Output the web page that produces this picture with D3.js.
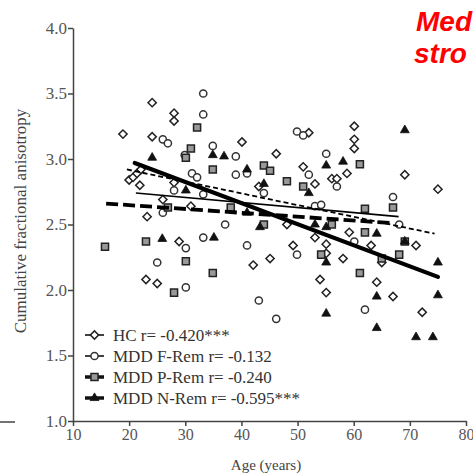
<!DOCTYPE html>
<html><head><meta charset="utf-8">
<script src="https://cdn.jsdelivr.net/npm/d3@7/dist/d3.min.js"></script>
<style>html,body{margin:0;padding:0;background:#fff;}svg{display:block;}</style>
</head><body>
<svg id="c" width="473" height="476"></svg>
<script>
// ---- data ----
const xTicks = [10, 20, 30, 40, 50, 60, 70, 80];
const yTicks = [1.0, 1.5, 2.0, 2.5, 3.0, 3.5, 4.0];
const seriesNames = ["HC", "MDD F-Rem", "MDD P-Rem", "MDD N-Rem"];
const legendLabels = ["HC r= -0.420***", "MDD F-Rem r= -0.132", "MDD P-Rem r= -0.240", "MDD N-Rem r= -0.595***"];

const hcAge = [24.1,28.0,28.0,18.9,24.1,20.0,20.7,21.4,22.1,21.9,26.0,31.0,23.2,40.1,46.2,51.0,53.1,56.1,57.0,58.8,43.1,52.0,60.1,60.1,60.1,69.1,75.0,48.1,28.9,23.0,25.0,49.2,53.1,55.1,55.1,58.1,42.1,45.1,54.0,55.1,59.2,63.1,71.1,65.0,64.1,67.0,72.2,28.0];
const hcFA  = [3.43,3.35,3.29,3.19,3.17,2.84,2.86,2.89,2.92,2.80,2.69,2.64,2.56,3.13,3.04,2.94,2.81,2.85,2.85,2.89,2.79,3.20,3.25,3.15,3.08,2.88,2.77,2.50,2.37,2.08,2.05,2.34,2.40,2.35,2.28,2.24,2.19,2.24,2.08,1.98,2.44,2.34,2.34,2.21,2.06,1.95,1.83,2.82];

const fAge = [33.2,33.2,26.0,26.9,34.9,29.9,31.2,32.1,28.0,33.2,26.0,39.0,55.1,39.0,41.0,52.0,57.0,44.0,53.1,54.2,37.1,49.9,51.0,67.0,68.1,30.1,33.2,25.0,30.1,41.0,49.9,43.1,46.2,60.1,62.0];
const fFA  = [3.50,3.34,3.15,3.12,3.10,3.03,2.89,2.86,2.76,2.73,2.59,3.02,3.04,2.88,2.89,2.88,2.79,2.74,2.64,2.65,2.50,3.21,3.18,2.71,2.50,2.32,2.40,2.21,2.02,2.34,2.27,1.92,1.78,2.37,1.85];

const pAge = [32.1,31.0,30.1,34.9,26.9,44.0,45.1,48.1,51.0,38.1,44.0,61.1,62.0,67.0,15.7,23.0,30.1,34.9,28.0,54.2,62.0,69.1,65.0,68.1,61.1,56.1];
const pFA  = [3.24,3.08,3.01,2.92,2.63,2.95,2.91,2.83,2.79,2.63,2.50,2.96,2.62,2.63,2.33,2.37,2.22,2.13,1.98,2.27,2.44,2.37,2.24,2.27,2.13,2.50];

const nAge = [34.9,24.1,30.1,36.9,55.1,58.1,41.0,44.0,52.0,41.0,43.3,69.1,25.9,35.1,55.1,55.1,64.1,69.1,75.0,64.1,75.0,64.1,71.1,74.1,53.1,55.1];
const nFA  = [3.03,3.01,2.76,3.02,2.95,2.98,2.92,2.81,2.74,2.59,2.48,3.22,2.39,2.40,2.21,1.82,2.43,2.37,2.21,1.95,1.96,1.71,1.64,1.64,2.50,2.48];

// regression line endpoints [age, FA]
const hcFit = [[19.6, 2.92], [74.4, 2.43]];
const fFit  = [[21.2, 2.74], [68.0, 2.56]];
const pFit  = [[15.9, 2.66], [67.0, 2.51]];
const nFit  = [[21.0, 2.97], [75.0, 2.10]];

// ---- drawing ----
const svg = d3.select("#c");
const x = d3.scaleLinear().domain([10, 80]).range([73, 466]);
const y = d3.scaleLinear().domain([1, 4]).range([421, 28]);
const serif = "'Liberation Serif','Times New Roman',serif";

// stray slide line at left
svg.append("line").attr("x1", 0).attr("x2", 15).attr("y1", 422).attr("y2", 422)
  .attr("stroke", "#444").attr("stroke-width", 1.5);

// axes
const xAxis = svg.append("g").attr("transform", `translate(0,${y(1)})`)
  .call(d3.axisBottom(x).tickValues(xTicks).tickSize(5).tickSizeOuter(0).tickPadding(3).tickFormat(d3.format("d")));
const yAxis = svg.append("g").attr("transform", `translate(${x(10)},0)`)
  .call(d3.axisLeft(y).tickValues(yTicks).tickSize(5).tickSizeOuter(0).tickPadding(1).tickFormat(d3.format(".1f")));
[xAxis, yAxis].forEach(g => {
  g.select(".domain").attr("stroke", "#444").attr("stroke-width", 1.5);
  g.selectAll(".tick line").attr("stroke", "#444").attr("stroke-width", 1.5);
  g.selectAll(".tick text").attr("fill", "#555").style("font-family", serif).style("font-size", "16px");
});
yAxis.selectAll(".tick text").style("font-size", "17px");

// axis titles
svg.append("text").attr("x", 266).attr("y", 470).attr("text-anchor", "middle")
  .style("font-family", serif).style("font-size", "15px").attr("fill", "#444").text("Age (years)");
svg.append("text").attr("transform", "translate(26,221) rotate(-90)").attr("text-anchor", "middle")
  .style("font-family", serif).style("font-size", "17px").attr("fill", "#444").text("Cumulative fractional anisotropy");

// symbols
const diamondPath = d3.symbol(d3.symbolSquare, 34)();
const squarePath = d3.symbol(d3.symbolSquare, 50)();
const triPath = d3.symbol(d3.symbolTriangle, 34)();

function drawMarker(g, type, cx, cy) {
  if (type === 0) {
    g.append("path").attr("d", diamondPath).attr("transform", `translate(${cx},${cy}) rotate(45)`)
      .attr("fill", "#fff").attr("stroke", "#222").attr("stroke-width", 1.5);
  } else if (type === 1) {
    g.append("circle").attr("cx", cx).attr("cy", cy).attr("r", 3.6)
      .attr("fill", "#fff").attr("stroke", "#333").attr("stroke-width", 1.5);
  } else if (type === 2) {
    g.append("path").attr("d", squarePath).attr("transform", `translate(${cx},${cy})`)
      .attr("fill", "#999").attr("stroke", "#222").attr("stroke-width", 1.5);
  } else {
    g.append("path").attr("d", triPath).attr("transform", `translate(${cx},${cy})`)
      .attr("fill", "#111").attr("stroke", "#111").attr("stroke-width", 0.8);
  }
}

const seriesData = [[hcAge, hcFA], [fAge, fFA], [pAge, pFA], [nAge, nFA]];
const pts = svg.append("g");
seriesData.forEach(([ages, vals], si) => {
  ages.forEach((a, i) => drawMarker(pts, si, x(a), y(vals[i])));
});

// regression lines
const fits = [hcFit, fFit, pFit, nFit];
const fitStyle = [
  {w: 1.8, dash: "5,3"},
  {w: 1.6, dash: null},
  {w: 3.8, dash: "12,5"},
  {w: 4.2, dash: null}
];
const line = d3.line().x(d => x(d[0])).y(d => y(d[1]));
fits.forEach((f, i) => {
  svg.append("path").attr("d", line(f)).attr("fill", "none").attr("stroke", "#000")
    .attr("stroke-width", fitStyle[i].w).attr("stroke-dasharray", fitStyle[i].dash)
    .attr("stroke-linecap", i === 3 ? "round" : "butt");
});

// legend
const lg = svg.append("g");
const legendY = [335, 356, 377, 398];
legendLabels.forEach((lab, i) => {
  const ly = legendY[i];
  lg.append("line").attr("x1", 85).attr("x2", 104).attr("y1", ly).attr("y2", ly)
    .attr("stroke", "#111").attr("stroke-width", i >= 2 ? 3.5 : 1.6);
  drawMarker(lg, i, 94.5, ly);
  lg.append("text").attr("x", 113).attr("y", ly + 6)
    .style("font-family", serif).style("font-size", "17px").attr("fill", "#333").text(lab);
});

// red annotation (visible part at the right edge)
const red = svg.append("g").style("font-family", "'Liberation Sans',Arial,sans-serif")
  .style("font-size", "28px").style("font-weight", "bold").style("font-style", "italic").attr("fill", "#ff0000");
red.append("text").attr("x", 416).attr("y", 31).text("Med");
red.append("text").attr("x", 414).attr("y", 63).text("stro");
</script>
</body></html>
